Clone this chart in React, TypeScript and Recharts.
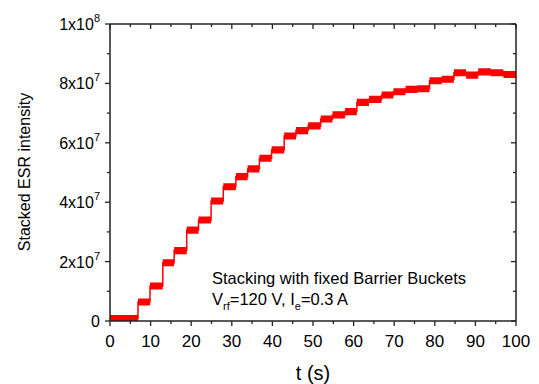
import { ComposedChart, Line, Area, XAxis, YAxis, Customized } from "recharts";

// step onset times (s) and plateau levels
const stepStarts = [
  0, 6.9, 9.85, 13.0, 15.8, 18.9, 21.8, 24.9, 27.9, 31.0, 33.9, 36.8, 39.8,
  42.9, 45.8, 48.8, 51.9, 54.8, 57.9, 60.8, 63.8, 66.9, 69.8, 72.8, 75.7,
  78.7, 81.7, 84.7, 87.7, 90.7, 93.8, 96.9,
];
const stepLevels = [
  0.08e7, 0.64e7, 1.18e7, 1.96e7, 2.37e7, 3.06e7, 3.4e7, 4.04e7, 4.52e7,
  4.86e7, 5.12e7, 5.48e7, 5.76e7, 6.23e7, 6.41e7, 6.57e7, 6.8e7, 6.94e7,
  7.05e7, 7.36e7, 7.46e7, 7.61e7, 7.72e7, 7.8e7, 7.82e7, 8.09e7, 8.14e7,
  8.36e7, 8.28e7, 8.39e7, 8.36e7, 8.3e7,
];
// half-width of the noise band on each plateau
const noiseHalfWidth = 1.2e6;
const endTime = 100;

const xTicks = [0, 5, 10, 15, 20, 25, 30, 35, 40, 45, 50, 55, 60, 65, 70, 75, 80, 85, 90, 95, 100];
const yTicks = [0, 1e7, 2e7, 3e7, 4e7, 5e7, 6e7, 7e7, 8e7, 9e7, 1e8];

const data = stepStarts
  .map((t, i) => ({ t, v: stepLevels[i] }))
  .concat([{ t: endTime, v: stepLevels[stepLevels.length - 1] }])
  .map((d) => ({
    ...d,
    band: [Math.max(0, d.v - noiseHalfWidth), d.v + noiseHalfWidth],
  }));

const FONT = "'Liberation Sans', Arial, sans-serif";
const AXIS = "#222";
const RED = "#ff0000";

const isMajorX = (v: number) => v % 10 === 0;
const isMajorY = (v: number) => Math.round(v / 1e7) % 2 === 0;

function BottomTick(props: any) {
  const { x, y, payload } = props;
  const major = isMajorX(payload.value);
  return (
    <g>
      <line x1={x} y1={y} x2={x} y2={y + (major ? 5 : 3)} stroke={AXIS} strokeWidth={1.3} />
      {major && (
        <text x={x} y={y + 26} textAnchor="middle" fontSize={17} fontFamily={FONT} fill="#000">
          {payload.value}
        </text>
      )}
    </g>
  );
}

function TopTick(props: any) {
  const { x, y, payload } = props;
  const len = isMajorX(payload.value) ? 5 : 3;
  return <line x1={x} y1={y} x2={x} y2={y + len} stroke={AXIS} strokeWidth={1.3} />;
}

function RightTick(props: any) {
  const { x, y, payload } = props;
  const len = isMajorY(payload.value) ? 5 : 3;
  return <line x1={x} y1={y} x2={x - len} y2={y} stroke={AXIS} strokeWidth={1.3} />;
}

function LeftTick(props: any) {
  const { x, y, payload } = props;
  const val = payload.value as number;
  const major = isMajorY(val);
  const line = <line x1={x} y1={y} x2={x - (major ? 5 : 3)} y2={y} stroke={AXIS} strokeWidth={1.3} />;
  if (!major) return line;
  if (val === 0) {
    return (
      <g>
        {line}
        <text x={x - 10} y={y + 6} textAnchor="end" fontSize={16} fontFamily={FONT} fill="#000">
          0
        </text>
      </g>
    );
  }
  const exp = Math.floor(Math.log10(val) + 1e-9);
  const mant = Math.round(val / Math.pow(10, exp));
  return (
    <g>
      {line}
      <text x={x - 10} y={y + 6} textAnchor="end" fontSize={16} fontFamily={FONT} fill="#000">
        <tspan>{`${mant}x10`}</tspan>
        <tspan dy={-8} fontSize={11}>{exp}</tspan>
      </text>
    </g>
  );
}

function Labels() {
  return (
    <g fontFamily={FONT} fill="#000">
      <text x={313} y={380} textAnchor="middle" fontSize={20}>
        t (s)
      </text>
      <text
        x={30}
        y={172}
        textAnchor="middle"
        fontSize={16}
        transform="rotate(-90 30 172)"
      >
        Stacked ESR intensity
      </text>
      <text x={212} y={284} fontSize={16.5}>
        Stacking with fixed Barrier Buckets
      </text>
      <text x={212} y={305} fontSize={16.5}>
        <tspan>V</tspan>
        <tspan dy={5} fontSize={11}>rf</tspan>
        <tspan dy={-5}>=120 V, I</tspan>
        <tspan dy={5} fontSize={11}>e</tspan>
        <tspan dy={-5}>=0.3 A</tspan>
      </text>
    </g>
  );
}

export default function App() {
  return (
    <div style={{ position: "absolute", left: 0, top: 0 }}>
      <ComposedChart
        width={539}
        height={384}
        data={data}
        margin={{ top: 23, right: 22, bottom: 23, left: 30 }}
      >
        <XAxis
          dataKey="t"
          type="number"
          domain={[0, 100]}
          ticks={xTicks}
          interval={0}
          tickSize={0}
          tickMargin={0}
          tickLine={false}
          height={40}
          stroke={AXIS}
          strokeWidth={1.5}
          tick={<BottomTick />}
        />
        <XAxis
          xAxisId="top"
          orientation="top"
          dataKey="t"
          type="number"
          domain={[0, 100]}
          ticks={xTicks}
          interval={0}
          tickSize={0}
          tickMargin={0}
          tickLine={false}
          height={1}
          stroke={AXIS}
          strokeWidth={1.5}
          tick={<TopTick />}
        />
        <YAxis
          type="number"
          domain={[0, 1e8]}
          ticks={yTicks}
          interval={0}
          tickSize={0}
          tickMargin={0}
          tickLine={false}
          width={80}
          stroke={AXIS}
          strokeWidth={1.5}
          tick={<LeftTick />}
        />
        <YAxis
          yAxisId="right"
          orientation="right"
          type="number"
          domain={[0, 1e8]}
          ticks={yTicks}
          interval={0}
          tickSize={0}
          tickMargin={0}
          tickLine={false}
          width={1}
          stroke={AXIS}
          strokeWidth={1.5}
          tick={<RightTick />}
        />
        {/* hidden series tied to the frame axes */}
        <Line
          xAxisId="top"
          yAxisId="right"
          dataKey="v"
          stroke="none"
          dot={false}
          legendType="none"
          isAnimationActive={false}
        />
        <Area
          type="stepAfter"
          dataKey="band"
          fill={RED}
          fillOpacity={1}
          stroke="none"
          isAnimationActive={false}
        />
        <Line
          type="stepAfter"
          dataKey="v"
          stroke={RED}
          strokeWidth={1.5}
          dot={false}
          isAnimationActive={false}
        />
        <Customized component={Labels} />
      </ComposedChart>
    </div>
  );
}
